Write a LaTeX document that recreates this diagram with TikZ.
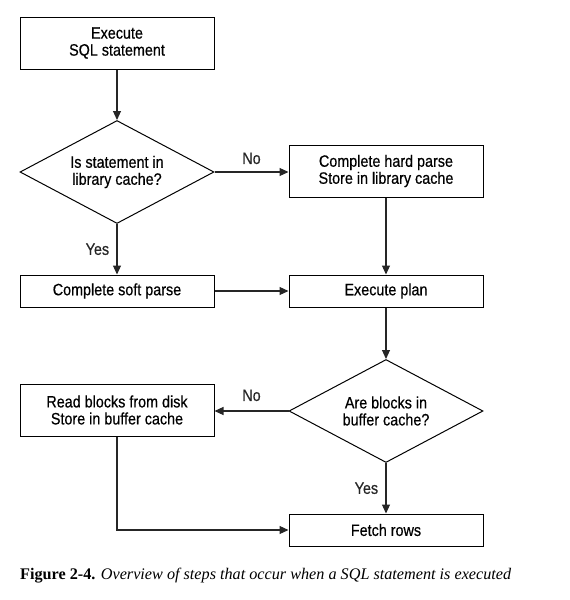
\documentclass[tikz,border=0pt]{standalone}
\usepackage{fontspec}
\usepackage{tikz}
\usetikzlibrary{shapes.geometric,arrows.meta}
\newfontfamily\boxfont{Liberation Sans}[FakeStretch=0.87, FakeBold=0.5]
\newfontfamily\capfont{Liberation Serif}

\tikzset{
  stepbox/.style={draw, rectangle, line width=1pt, minimum width=194pt, align=center,
    font=\boxfont\fontsize{16.5}{17}\selectfont},
  decide/.style={draw, diamond, line width=1pt, inner sep=0pt, aspect=1.9,
    minimum width=194pt, minimum height=103pt, align=center,
    font=\boxfont\fontsize{16.5}{17}\selectfont},
  flow/.style={-{Stealth[length=9pt,width=8pt,inset=0pt]}, line width=1.1pt, black!85},
  lbl/.style={font=\boxfont\fontsize{16.5}{17}\selectfont}
}

\begin{document}
\begin{tikzpicture}[x=1pt, y=-1pt]
    \useasboundingbox (0,0) rectangle (570,600);

    % Execute SQL statement
    \node[stepbox, minimum height=52pt] (start) at (117,43) {Execute\\SQL statement};

    % Library cache test
    \node[decide] (libq) at (117,172) {Is statement in\\library cache?};

    % Hard parse
    \node[stepbox, minimum height=52pt] (hard) at (386,171) {Complete hard parse\\Store in library cache};

    % Soft parse
    \node[stepbox, minimum height=32pt] (soft) at (117,291) {Complete soft parse};

    % Execute plan
    \node[stepbox, minimum height=32pt] (plan) at (386,291) {Execute plan};

    % Buffer cache test
    \node[decide] (bufq) at (386,411) {Are blocks in\\buffer cache?};

    % Read from disk
    \node[stepbox, minimum height=52pt] (disk) at (117,410) {Read blocks from disk\\Store in buffer cache};

    % Fetch rows
    \node[stepbox, minimum height=32pt] (fetch) at (386,530) {Fetch rows};

    % Connections
    \draw[flow] (start) -- (libq);
    \draw[flow] (libq.east) -- node[lbl, above=4pt] {No} (hard.west |- libq.east);
    \draw[flow] (libq) -- node[lbl, left=4pt] {Yes} (soft);
    \draw[flow] (soft) -- (plan);
    \draw[flow] (hard) -- (plan);
    \draw[flow] (plan) -- (bufq);
    \draw[flow] (bufq.west) -- node[lbl, above=6pt] {No} (disk.east |- bufq.west);
    \draw[flow] (bufq) -- node[lbl, left=4pt] {Yes} (fetch);
    \draw[flow] (disk.south) |- (fetch.west);

    % Caption
    \node[anchor=west, inner sep=0pt, font=\capfont\fontsize{16.2}{18}\selectfont] (cap) at (20,576)
      {\textbf{Figure 2-4.} \textit{Overview of steps that occur when a SQL statement is executed}};

\end{tikzpicture}
\end{document}
